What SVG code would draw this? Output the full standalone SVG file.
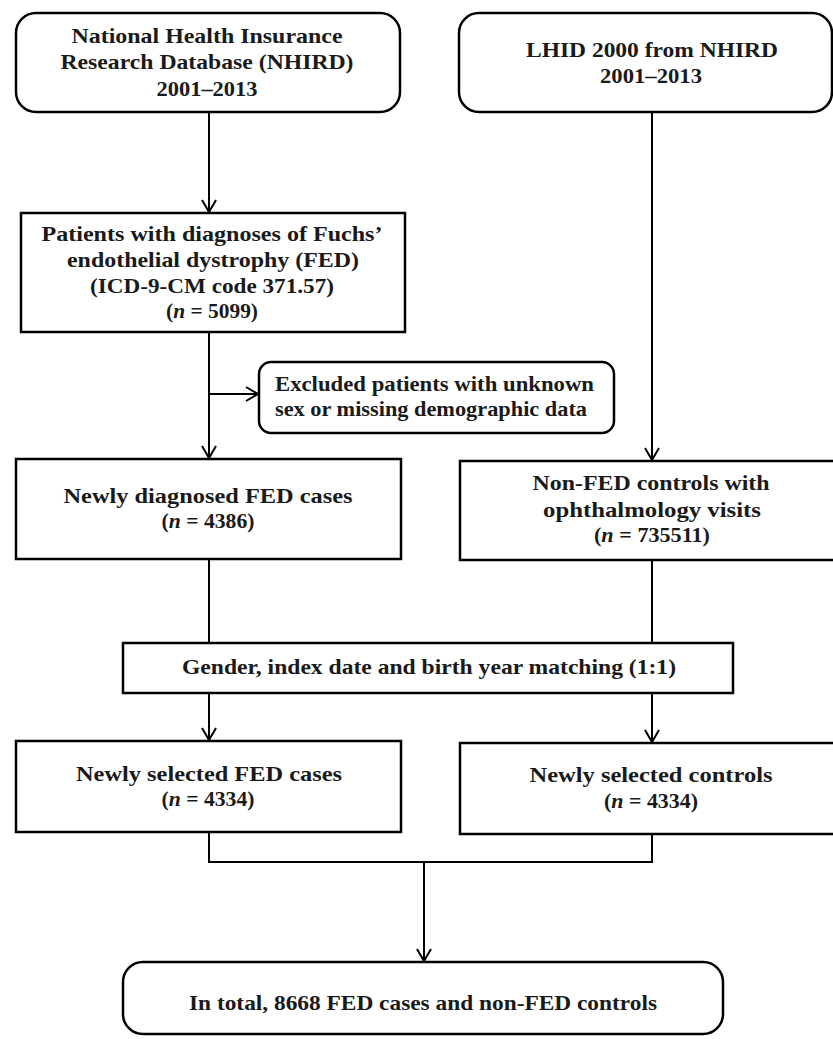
<svg xmlns="http://www.w3.org/2000/svg" width="833" height="1039" viewBox="0 0 833 1039">
<style>
.box{fill:#fff;stroke:#000;stroke-width:2.5}
.t{font-family:"Liberation Serif","Times New Roman",serif;font-weight:bold;font-size:21px;fill:#1a1a1a;text-anchor:middle}
.ts{text-anchor:start}
.c{fill:none;stroke:#000;stroke-width:2}
.arr{marker-end:url(#ah)}
</style>
<defs>
<marker id="ah" markerUnits="userSpaceOnUse" viewBox="0 0 16 16" refX="14" refY="8" markerWidth="16" markerHeight="16" orient="auto">
<path d="M2,1 L14,8 L2,15" fill="none" stroke="#000" stroke-width="2"/>
</marker>
</defs>
<rect width="833" height="1039" fill="#fff"/>
<g id="connectors">
<line class="c arr" x1="209" y1="112" x2="209" y2="212"/>
<line class="c" x1="209" y1="332" x2="209" y2="394"/>
<line class="c arr" x1="209" y1="394" x2="258" y2="394"/>
<line class="c arr" x1="209" y1="394" x2="209" y2="458"/>
<line class="c arr" x1="652" y1="112" x2="652" y2="460"/>
<line class="c" x1="209" y1="559" x2="209" y2="643"/>
<line class="c" x1="652" y1="560" x2="652" y2="643"/>
<line class="c arr" x1="209" y1="693" x2="209" y2="740"/>
<line class="c arr" x1="652" y1="693" x2="652" y2="742"/>
<polyline class="c" points="209,832 209,862 652,862 652,834"/>
<line class="c arr" x1="424" y1="862" x2="424" y2="961"/>
</g>
<g id="n1">
<rect class="box" x="16" y="13" width="384" height="99" rx="20"/>
<text class="t" x="207" y="43" textLength="271" lengthAdjust="spacingAndGlyphs">National Health Insurance</text>
<text class="t" x="207" y="69" textLength="293" lengthAdjust="spacingAndGlyphs">Research Database (NHIRD)</text>
<text class="t" x="207" y="96" textLength="101" lengthAdjust="spacingAndGlyphs">2001–2013</text>
</g>
<g id="n2">
<rect class="box" x="459" y="13" width="373" height="99" rx="20"/>
<text class="t" x="652" y="57" textLength="252" lengthAdjust="spacingAndGlyphs">LHID 2000 from NHIRD</text>
<text class="t" x="651" y="83" textLength="102" lengthAdjust="spacingAndGlyphs">2001–2013</text>
</g>
<g id="n3">
<rect class="box" x="21" y="213" width="384" height="119"/>
<text class="t" x="212" y="241" textLength="341" lengthAdjust="spacingAndGlyphs">Patients with diagnoses of Fuchs’</text>
<text class="t" x="213" y="267" textLength="292" lengthAdjust="spacingAndGlyphs">endothelial dystrophy (FED)</text>
<text class="t" x="212" y="293" textLength="244" lengthAdjust="spacingAndGlyphs">(ICD-9-CM code 371.57)</text>
<text class="t" x="212" y="318" textLength="92" lengthAdjust="spacingAndGlyphs">(<tspan font-style="italic">n</tspan> = 5099)</text>
</g>
<g id="n4">
<rect class="box" x="259" y="362" width="355" height="71" rx="12"/>
<text class="t ts" x="275" y="391" textLength="319" lengthAdjust="spacingAndGlyphs">Excluded patients with unknown</text>
<text class="t ts" x="275" y="416" textLength="312" lengthAdjust="spacingAndGlyphs">sex or missing demographic data</text>
</g>
<g id="n5">
<rect class="box" x="16" y="459" width="385" height="100"/>
<text class="t" x="208" y="503" textLength="289" lengthAdjust="spacingAndGlyphs">Newly diagnosed FED cases</text>
<text class="t" x="208" y="528" textLength="93" lengthAdjust="spacingAndGlyphs">(<tspan font-style="italic">n</tspan> = 4386)</text>
</g>
<g id="n6">
<rect class="box" x="460" y="461" width="376" height="99"/>
<text class="t" x="651" y="490" textLength="237" lengthAdjust="spacingAndGlyphs">Non-FED controls with</text>
<text class="t" x="652" y="517" textLength="218" lengthAdjust="spacingAndGlyphs">ophthalmology visits</text>
<text class="t" x="652" y="542" textLength="116" lengthAdjust="spacingAndGlyphs">(<tspan font-style="italic">n</tspan> = 735511)</text>
</g>
<g id="n7">
<rect class="box" x="123" y="643" width="610" height="50"/>
<text class="t" x="429" y="674" textLength="494" lengthAdjust="spacingAndGlyphs">Gender, index date and birth year matching (1:1)</text>
</g>
<g id="n8">
<rect class="box" x="16" y="741" width="385" height="91"/>
<text class="t" x="209" y="781" textLength="266" lengthAdjust="spacingAndGlyphs">Newly selected FED cases</text>
<text class="t" x="208" y="806" textLength="93" lengthAdjust="spacingAndGlyphs">(<tspan font-style="italic">n</tspan> = 4334)</text>
</g>
<g id="n9">
<rect class="box" x="460" y="743" width="376" height="91"/>
<text class="t" x="651" y="782" textLength="243" lengthAdjust="spacingAndGlyphs">Newly selected controls</text>
<text class="t" x="651" y="808" textLength="94" lengthAdjust="spacingAndGlyphs">(<tspan font-style="italic">n</tspan> = 4334)</text>
</g>
<g id="n10">
<rect class="box" x="123" y="962" width="600" height="72" rx="20"/>
<text class="t" x="423" y="1010" textLength="468" lengthAdjust="spacingAndGlyphs">In total, 8668 FED cases and non-FED controls</text>
</g>
</svg>
